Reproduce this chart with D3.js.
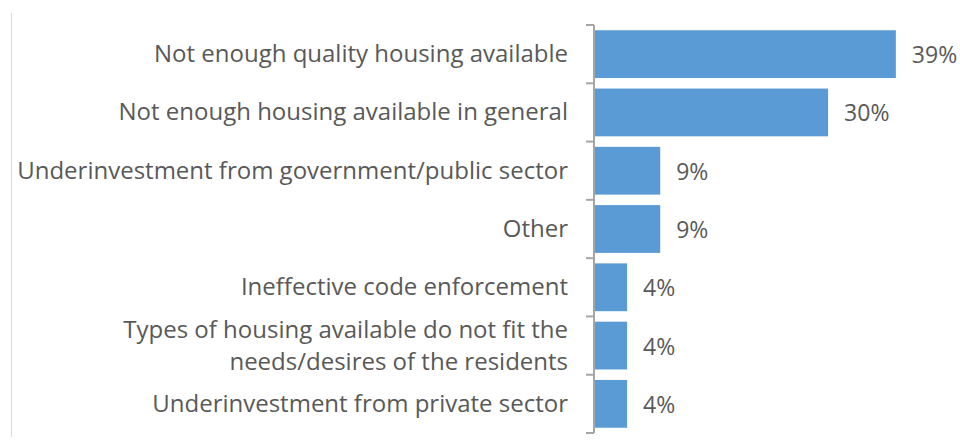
<!DOCTYPE html>
<html>
<head>
<meta charset="utf-8">
<script src="https://cdn.jsdelivr.net/npm/d3@7"></script>
<style>
  body { margin: 0; background: #fff; }
  text { font-family: "Open Sans", sans-serif; fill: #595959; }
</style>
</head>
<body>
<script>
// categories, top to bottom
const categories = [
  ["Not enough quality housing available"],
  ["Not enough housing available in general"],
  ["Underinvestment from government/public sector"],
  ["Other"],
  ["Ineffective code enforcement"],
  ["Types of housing available do not fit the", "needs/desires of the residents"],
  ["Underinvestment from private sector"]
]
// percent values
const values = [39.2, 30.4, 8.6, 8.6, 4.3, 4.3, 4.3]

const width = 960
const height = 443
const barColor = "#5b9bd5"
const axisColor = "#a6a6a6"

const svg = d3.select("body").append("svg")
    .attr("width", width)
    .attr("height", height)

// thin frame line on the left
svg.append("line")
    .attr("x1", 11.5).attr("x2", 11.5)
    .attr("y1", 13).attr("y2", 437)
    .attr("stroke", "#d9d9d9")
    .attr("stroke-width", 1)

const x = d3.scaleLinear()
    .domain([0, 10])
    .range([594, 594 + 77])

const y = d3.scaleBand()
    .domain(d3.range(categories.length))
    .range([25, 433])
    .paddingInner(0.18)
    .paddingOuter(0.09)

const step = y.step()

svg.append("g")
    .selectAll("rect")
    .data(values)
    .join("rect")
    .attr("x", x(0))
    .attr("y", (d, i) => y(i))
    .attr("width", d => x(d) - x(0))
    .attr("height", y.bandwidth())
    .attr("fill", barColor)

// axis line with ticks between categories
const axis = svg.append("g")
axis.append("line")
    .attr("x1", x(0)).attr("x2", x(0))
    .attr("y1", 25).attr("y2", 433)
    .attr("stroke", axisColor)
    .attr("stroke-width", 2)

axis.selectAll(".tick")
    .data(d3.range(categories.length + 1))
    .join("line")
    .attr("class", "tick")
    .attr("x1", x(0) - 8).attr("x2", x(0))
    .attr("y1", i => 25 + i * step)
    .attr("y2", i => 25 + i * step)
    .attr("stroke", axisColor)
    .attr("stroke-width", 2)

// category labels
const labels = svg.append("g")
    .selectAll("text")
    .data(categories)
    .join("text")
    .attr("x", 568)
    .attr("y", (d, i) => y(i) + y.bandwidth() / 2)
    .attr("text-anchor", "end")
    .style("font-size", "24px")

labels.each(function (lines) {
    const t = d3.select(this)
    const lh = 32
    lines.forEach((line, k) => {
        t.append("tspan")
            .attr("x", 568)
            .attr("dy", k === 0 ? ((-(lines.length - 1) * lh / 2) + 8) + "px" : lh + "px")
            .text(line)
    })
})

// value labels
svg.append("g")
    .selectAll("text")
    .data(values)
    .join("text")
    .attr("x", d => x(d) + 16)
    .attr("y", (d, i) => y(i) + y.bandwidth() / 2 + 9)
    .style("font-size", "23px")
    .text(d => Math.round(d) + "%")
</script>
</body>
</html>
